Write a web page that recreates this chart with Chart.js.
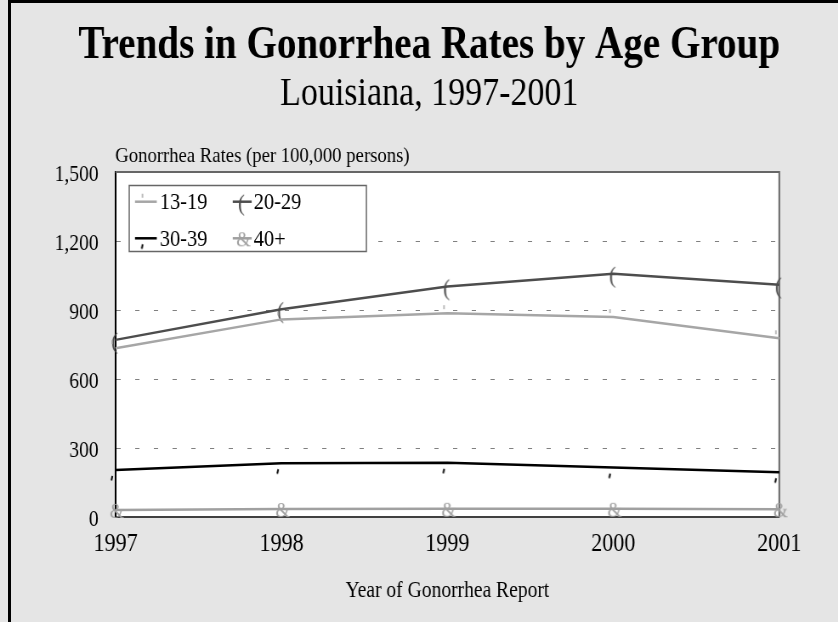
<!DOCTYPE html>
<html>
<head>
<meta charset="utf-8">
<title>Trends in Gonorrhea Rates by Age Group</title>
<script src="https://cdn.jsdelivr.net/npm/chart.js@4.4.0/dist/chart.umd.min.js"></script>
<style>
  html, body { margin: 0; padding: 0; background: #e5e5e5; overflow: hidden; }
  #frame { position: absolute; left: 8px; top: 0; width: 830px; height: 622px; border-left: 3px solid #000; border-top: 3px solid #000; box-sizing: border-box; }
  /* the original is drawn with narrow, condensed lettering */
  #squeeze { position: absolute; left: 0; top: 0; width: 986px; height: 622px; transform: scaleX(0.85); transform-origin: 0 0; }
</style>
</head>
<body>
<div id="frame"></div>
<div id="squeeze"><canvas id="trendChart"></canvas></div>
<script>
// ===== DATA =====
const years = ['1997', '1998', '1999', '2000', '2001'];
const ages13to19 = [735, 860, 887, 870, 778];
const ages20to29 = [771, 904, 1003, 1058, 1011];
const ages30to39 = [206, 235, 237, 216, 196];
const ages40plus = [32, 36, 37, 37, 35];
const yTicks = [0, 300, 600, 900, 1200, 1500];

const serif = '"Liberation Serif", "Times New Roman", serif';

// ===== MARKERS (small glyph canvases used as pointStyle) =====
function glyph(draw) {
    const c = document.createElement('canvas');
    c.width = 40;
    c.height = 40;
    const g = c.getContext('2d');
    g.translate(20, 20);
    draw(g);
    return c;
}
const markTick = glyph(g => {
    g.strokeStyle = '#a6a6a6';
    g.lineWidth = 1.5;
    g.beginPath();
    g.moveTo(-4, -8);
    g.lineTo(-4, -4);
    g.stroke();
});
const markParen = glyph(g => {
    g.fillStyle = '#4d4d4d';
    g.font = '24px ' + serif;
    g.textAlign = 'center';
    g.textBaseline = 'alphabetic';
    g.fillText('(', -1, 8.5);
});
const markComma = glyph(g => {
    g.strokeStyle = '#000';
    g.lineWidth = 2;
    g.beginPath();
    g.moveTo(-3.8, 6);
    g.lineTo(-4.9, 10.5);
    g.stroke();
});
const markAmp = glyph(g => {
    g.fillStyle = '#a0a0a0';
    g.font = '22px ' + serif;
    g.textAlign = 'center';
    g.textBaseline = 'alphabetic';
    g.fillText('&', 1.5, 8);
});

function series(label, data, color, mark) {
    return {
        label: label,
        data: data,
        borderColor: color,
        backgroundColor: color,
        borderWidth: 2.5,
        tension: 0,
        pointStyle: mark,
        pointRadius: 10,
        clip: false
    };
}

// ===== PLOT FRAME, LEGEND BOX, Y TITLE =====
const plotFrame = {
    id: 'plotFrame',
    beforeDraw(chart) {
        const { ctx, chartArea: a } = chart;
        ctx.save();
        ctx.fillStyle = '#fff';
        ctx.fillRect(a.left, a.top, a.right - a.left, a.bottom - a.top);
        ctx.fillStyle = '#000';
        ctx.font = '22px ' + serif;
        ctx.textAlign = 'left';
        ctx.textBaseline = 'alphabetic';
        ctx.fillText('Gonorrhea Rates (per 100,000 persons)', 135.5, 162);
        ctx.restore();
    },
    beforeDatasetsDraw(chart) {
        const { ctx, chartArea: a } = chart;
        ctx.save();
        ctx.strokeStyle = '#666';
        ctx.lineWidth = 2;
        ctx.beginPath();
        ctx.moveTo(a.left, a.top);
        ctx.lineTo(a.right, a.top);
        ctx.lineTo(a.right, a.bottom);
        ctx.stroke();
        ctx.restore();
    },
    afterDatasetsDraw(chart) {
        const { ctx } = chart;
        const box = { x: 152, y: 185.5, w: 279, h: 66 };
        const cols = [{ lx: 158.8, rx: 184.4, tx: 188 }, { lx: 273.8, rx: 296.1, tx: 298.5 }];
        const rows = [201.7, 238.3];
        ctx.save();
        ctx.fillStyle = '#fff';
        ctx.fillRect(box.x, box.y, box.w, box.h);
        ctx.strokeStyle = '#666';
        ctx.lineWidth = 1.5;
        ctx.strokeRect(box.x, box.y, box.w, box.h);
        ctx.font = '24px ' + serif;
        ctx.textBaseline = 'middle';
        ctx.textAlign = 'left';
        chart.data.datasets.forEach((ds, i) => {
            const col = cols[i % 2];
            const y = rows[Math.floor(i / 2)];
            ctx.strokeStyle = ds.borderColor;
            ctx.lineWidth = ds.borderWidth;
            ctx.beginPath();
            ctx.moveTo(col.lx, y);
            ctx.lineTo(col.rx, y);
            ctx.stroke();
            const m = ds.pointStyle;
            ctx.drawImage(m, (col.lx + col.rx) / 2 - m.width / 2, y - m.height / 2);
            ctx.fillStyle = '#000';
            ctx.fillText(ds.label, col.tx, y + 1);
        });
        ctx.restore();
    }
};

// ===== CHART =====
const ctx = document.getElementById('trendChart');
new Chart(ctx, {
    type: 'line',
    data: {
        labels: years,
        datasets: [
            series('13-19', ages13to19, '#a6a6a6', markTick),
            series('20-29', ages20to29, '#4d4d4d', markParen),
            series('30-39', ages30to39, '#000000', markComma),
            series('40+', ages40plus, '#a0a0a0', markAmp)
        ]
    },
    options: {
        responsive: true,
        maintainAspectRatio: false,
        animation: false,
        layout: {
            padding: { left: 24, right: 0, top: 0, bottom: 17 }
        },
        plugins: {
            legend: { display: false },
            tooltip: { enabled: false },
            title: {
                display: true,
                text: 'Trends in Gonorrhea Rates by Age Group',
                color: '#000',
                font: { family: serif, size: 46, weight: 'bold', lineHeight: 1.1 },
                padding: { top: 20.7, bottom: 0 }
            },
            subtitle: {
                display: true,
                text: 'Louisiana, 1997-2001',
                color: '#000',
                font: { family: serif, size: 40, lineHeight: 1.1 },
                padding: { top: 0.8, bottom: 56 }
            }
        },
        scales: {
            x: {
                offset: false,
                afterFit: scale => { scale.height = 87.7; },
                grid: { display: false, drawTicks: false },
                border: { display: true, color: '#404040', width: 2 },
                ticks: { color: '#000', padding: 11, font: { family: serif, size: 26 } },
                title: {
                    display: true,
                    text: 'Year of Gonorrhea Report',
                    color: '#000',
                    font: { family: serif, size: 23 },
                    padding: 0
                }
            },
            y: {
                min: 0,
                max: 1500,
                afterFit: scale => { scale.width = 111.9; },
                afterBuildTicks: scale => { scale.ticks = yTicks.map(v => ({ value: v })); },
                grid: {
                    color: '#808080',
                    lineWidth: 1,
                    drawTicks: false
                },
                border: { display: true, color: '#000', width: 2, dash: [5, 17] },
                ticks: {
                    color: '#000',
                    padding: 20,
                    labelOffset: 3,
                    font: { family: serif, size: 23 },
                    callback: v => v.toLocaleString('en-US')
                }
            },
            // empty right-hand axis that only keeps the gap right of the plot
            yGap: {
                type: 'linear',
                position: 'right',
                afterFit: scale => { scale.width = 69.2; },
                grid: { display: false, drawTicks: false },
                border: { display: false },
                ticks: { display: false }
            }
        }
    },
    plugins: [plotFrame]
});
</script>
</body>
</html>
